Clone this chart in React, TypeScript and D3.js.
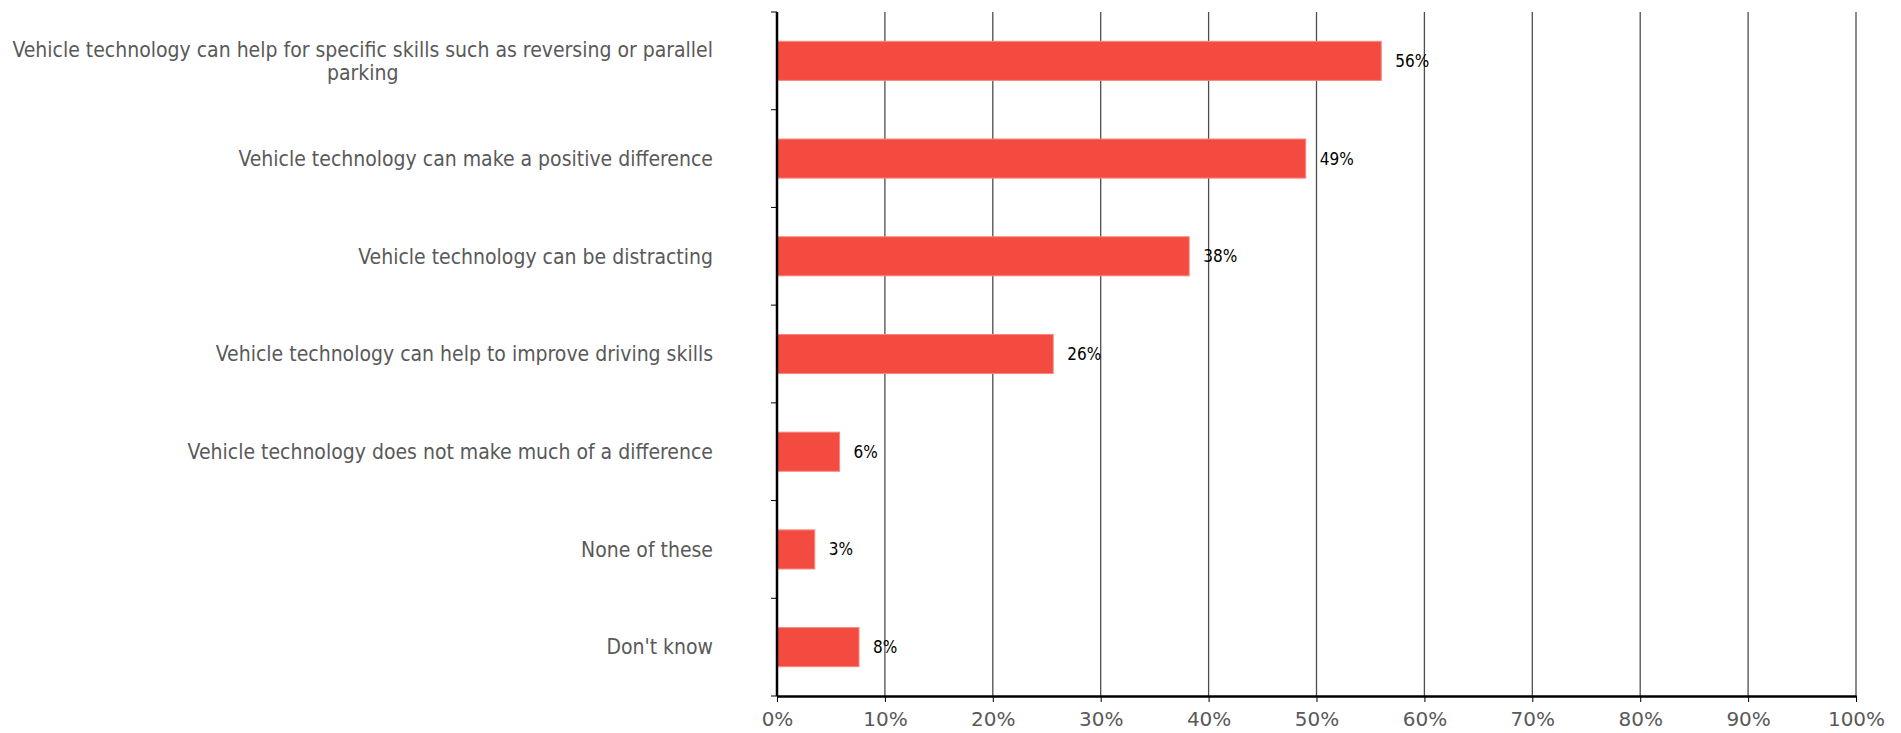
import React, { useEffect, useRef } from "react";
import * as d3 from "d3";

const categories: string[] = [
  "Vehicle technology can help for specific skills such as reversing or parallel parking",
  "Vehicle technology can make a positive difference",
  "Vehicle technology can be distracting",
  "Vehicle technology can help to improve driving skills",
  "Vehicle technology does not make much of a difference",
  "None of these",
  "Don't know",
];
const values: number[] = [0.56, 0.49, 0.382, 0.256, 0.058, 0.035, 0.076];
const valueLabels: string[] = ["56%", "49%", "38%", "26%", "6%", "3%", "8%"];
const xTicks: number[] = [0, 0.1, 0.2, 0.3, 0.4, 0.5, 0.6, 0.7, 0.8, 0.9, 1];

const W = 1901;
const H = 733;
const M = { left: 777, right: 1856, top: 12, bottom: 696 };
const COND = "'DejaVu Sans Condensed', 'Liberation Sans', sans-serif";

export default function App() {
  const ref = useRef<SVGSVGElement | null>(null);

  useEffect(() => {
    const svg = d3.select(ref.current);
    svg.selectAll("*").remove();

    const x = d3.scaleLinear().domain([0, 1]).range([M.left, M.right]);
    const y = d3.scaleBand<string>().domain(categories).range([M.top, M.bottom]).padding(0);
    const bw = y.bandwidth();

    // gridlines
    svg.append("g")
      .selectAll("line")
      .data(xTicks.slice(1))
      .join("line")
      .attr("x1", (d) => x(d))
      .attr("x2", (d) => x(d))
      .attr("y1", M.top)
      .attr("y2", M.bottom)
      .attr("stroke", "#4d4d4d")
      .attr("stroke-width", 1.3);

    // bars
    svg.append("g")
      .selectAll("rect")
      .data(categories)
      .join("rect")
      .attr("x", x(0))
      .attr("y", (d) => (y(d) as number) + bw * 0.3)
      .attr("width", (d, i) => x(values[i]) - x(0))
      .attr("height", bw * 0.4)
      .attr("fill", "#F44B40")
      .attr("stroke", "#F7877F")
      .attr("stroke-width", 1);

    // value labels
    svg.append("g")
      .selectAll("text")
      .data(categories)
      .join("text")
      .attr("x", (d, i) => x(values[i]) + 14)
      .attr("y", (d) => (y(d) as number) + bw / 2)
      .attr("dy", "0.35em")
      .attr("font-family", COND)
      .attr("font-size", 17)
      .attr("fill", "#000")
      .text((d, i) => valueLabels[i]);

    // x axis
    const xAxis = d3.axisBottom(x)
      .tickValues(xTicks)
      .tickFormat((d) => d3.format(".0%")(d as number))
      .tickSize(6)
      .tickSizeOuter(0)
      .tickPadding(10);
    const gx = svg.append("g").attr("transform", `translate(0,${M.bottom})`).call(xAxis);
    gx.select(".domain").attr("stroke", "#000").attr("stroke-width", 2.5);
    gx.selectAll(".tick line").attr("stroke", "#000").attr("stroke-width", 1);
    gx.selectAll(".tick text")
      .attr("font-family", "'DejaVu Sans', 'Liberation Sans', sans-serif")
      .attr("font-size", 20)
      .attr("fill", "#595959");

    // y axis ticks at band boundaries
    const yEdges = d3.range(categories.length + 1).map((i) => M.top + i * y.step());
    svg.append("g")
      .selectAll("line")
      .data(yEdges)
      .join("line")
      .attr("x1", x(0) - 6)
      .attr("x2", x(0))
      .attr("y1", (d) => d)
      .attr("y2", (d) => d)
      .attr("stroke", "#000")
      .attr("stroke-width", 1);
    svg.append("line")
      .attr("x1", x(0))
      .attr("x2", x(0))
      .attr("y1", M.top)
      .attr("y2", M.bottom)
      .attr("stroke", "#000")
      .attr("stroke-width", 2.5);

    // category labels
    const labelRight = 713;
    const maxW = 720;
    const lineH = 23;
    const gl = svg.append("g");
    categories.forEach((c) => {
      const t = gl.append("text")
        .attr("font-family", COND)
        .attr("font-size", 21)
        .attr("fill", "#595959");
      const words = c.split(" ");
      const lines: string[] = [];
      let cur: string[] = [];
      const probe = t.append("tspan");
      words.forEach((w) => {
        const test = [...cur, w].join(" ");
        probe.text(test);
        const len = (probe.node() as SVGTSpanElement).getComputedTextLength();
        if (len > maxW && cur.length) {
          lines.push(cur.join(" "));
          cur = [w];
        } else cur.push(w);
      });
      if (cur.length) lines.push(cur.join(" "));
      probe.remove();
      const widths = lines.map((l) => {
        const p = t.append("tspan").text(l);
        const wv = (p.node() as SVGTSpanElement).getComputedTextLength();
        p.remove();
        return wv;
      });
      const blockW = d3.max(widths) as number;
      const cx = labelRight - blockW / 2;
      const cy = (y(c) as number) + bw / 2;
      const y0 = cy - ((lines.length - 1) * lineH) / 2;
      lines.forEach((l, i) => {
        t.append("tspan")
          .attr("x", cx)
          .attr("y", y0 + i * lineH)
          .attr("dy", "0.35em")
          .attr("text-anchor", "middle")
          .text(l);
      });
    });
  }, []);

  return (
    <div style={{ position: "absolute", left: 0, top: 0 }}>
      <svg ref={ref} width={W} height={H} style={{ display: "block", background: "#fff" }} />
    </div>
  );
}
